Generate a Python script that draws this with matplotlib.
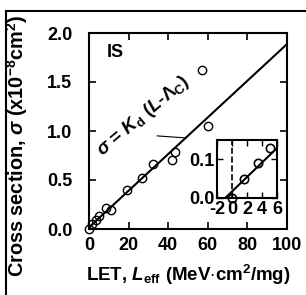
# Wirkungsquerschnitt gegen LET, mit Ausgleichsgerade und Ausschnitt nahe Null
import numpy as np
import matplotlib
matplotlib.use('Agg')
import matplotlib.pyplot as plt
from matplotlib.lines import Line2D

plt.rcParams['font.family'] = 'Liberation Sans'
plt.rcParams['font.weight'] = 'bold'
plt.rcParams['mathtext.fontset'] = 'custom'
plt.rcParams['mathtext.rm'] = 'Liberation Sans:bold'
plt.rcParams['mathtext.it'] = 'Liberation Sans:bold:italic'
plt.rcParams['mathtext.bf'] = 'Liberation Sans:bold'
plt.rcParams['axes.unicode_minus'] = False

# Messdaten (LET in MeV cm^2/mg, sigma in 1e-8 cm^2)
let_vals = [0, 1.6, 3.4, 5.0, 8.5, 11, 19, 27, 32.5, 42, 43.5, 57, 60]
sigma_vals = [0, 0.05, 0.09, 0.13, 0.21, 0.19, 0.40, 0.52, 0.66, 0.70, 0.79, 1.62, 1.05]

# Ausgleichsgerade sigma = K_d (L - Lambda_c)
K_d = 0.0187
L_c = -0.9
fit_L = [L_c, 100]

xticks = [0, 20, 40, 60, 80, 100]
yticks = [0.0, 0.5, 1.0, 1.5, 2.0]
inset_xticks = [-2, 0, 2, 4, 6]
inset_yticks = [0.0, 0.1]

fs = 13

fig = plt.figure(figsize=(3.06, 2.95), dpi=100)
ax = fig.add_axes([89/306, 1-229/295, 198/306, 196/295])

fit_s = [K_d*(l - L_c) for l in fit_L]
ax.plot(fit_L, fit_s, 'k-', lw=1.5)
ax.plot(let_vals, sigma_vals, 'o', mfc='none', mec='k', ms=6, mew=1.0, clip_on=False)
ax.set_xlim(0, 100)
ax.set_ylim(0, 2)
ax.set_xticks(xticks)
ax.set_yticks(yticks)
ax.set_xticklabels([str(v) for v in xticks], fontweight='bold')
ax.set_yticklabels(['%.1f' % v for v in yticks], fontweight='bold')
ax.tick_params(direction='in', top=True, right=True, length=5, width=1.2, labelsize=fs)
ax.tick_params(axis='y', pad=12)
ax.tick_params(axis='x', pad=6)
for s in ax.spines.values():
    s.set_linewidth(1.5)

ax.set_xlabel(r'LET, $\mathit{L}_{\rm eff}$ (MeV$\cdot$cm$^2$/mg)', fontsize=13.5, fontweight='bold')
ax.set_ylabel(r'Cross section, $\mathit{\sigma}$ (x10$^{-8}$cm$^2$)', fontsize=14.3, fontweight='bold')
ax.xaxis.set_label_coords(0.5, -(263-229)/196, transform=ax.transAxes)
ax.yaxis.set_label_coords(-(89-30)/198, (229-146)/196, transform=ax.transAxes)

ax.text(9, 1.8, 'IS', fontsize=fs, fontweight='bold', va='center')
ax.text(27.5, 1.15, r'$\mathit{\sigma}$ = $\mathit{K}_{\rm d}$ ($\mathit{L}$-$\Lambda_{\rm C}$)', fontsize=13.5,
        fontweight='bold', rotation=40, ha='center', va='center', rotation_mode='anchor')
ax.plot([34.5, 48.5], [0.95, 0.93], 'k-', lw=0.8)

# Ausschnitt
ins = fig.add_axes([217/306, 1-198/295, 60/306, 58/295])
ins_L = [l for l in let_vals if l <= 6]
ins_s = [s for l, s in zip(let_vals, sigma_vals) if l <= 6]
ins.plot(fit_L, fit_s, 'k-', lw=1.5)
ins.plot(ins_L, ins_s, 'o', mfc='none', mec='k', ms=6, mew=1.2, clip_on=False)
ins.axvline(0, color='k', ls='--', lw=1.2)
ins.set_xlim(-2, 6)
ins.set_ylim(0, 0.15)
ins.set_xticks(inset_xticks)
ins.set_yticks(inset_yticks)
ins.set_xticklabels([str(v) for v in inset_xticks], fontweight='bold')
ins.set_yticklabels(['0.0', '0.1'], fontweight='bold')
ins.tick_params(direction='in', top=True, right=True, length=4, width=1.0, labelsize=fs, pad=2)
for s in ins.spines.values():
    s.set_linewidth(1.5)

# Rahmen oben und links
fig.add_artist(Line2D([6/306, 1], [1-11/295, 1-11/295], color='k', lw=1.5))
fig.add_artist(Line2D([6/306, 6/306], [0, 1-11/295], color='k', lw=1.5))

plt.savefig('out.png', dpi=100)
